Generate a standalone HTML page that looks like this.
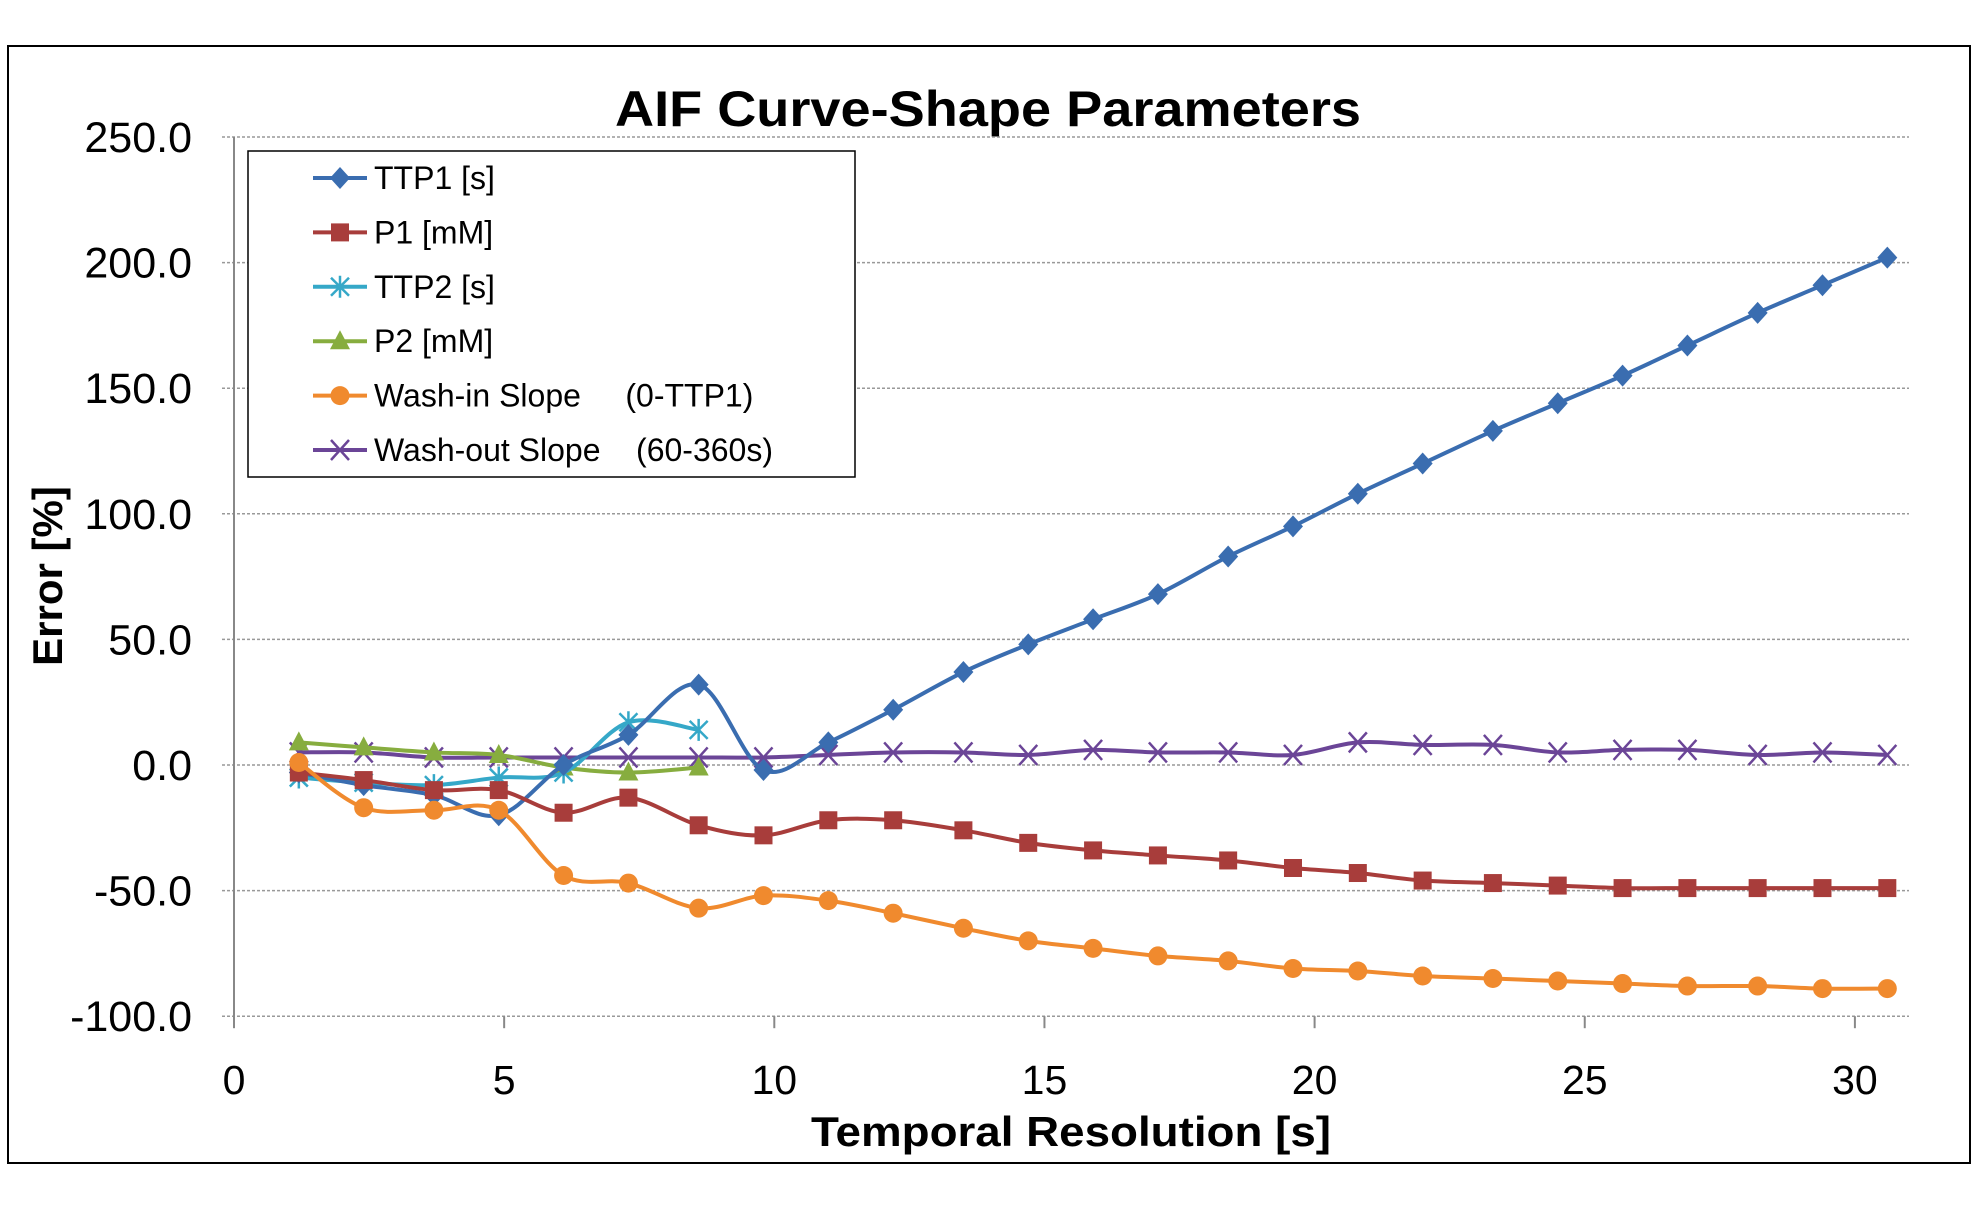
<!DOCTYPE html>
<html><head><meta charset="utf-8"><style>
body{margin:0;background:#fff}
svg{display:block;font-family:"Liberation Sans",sans-serif}
</style></head><body>
<svg id="c" width="1982" height="1212"></svg>
<script>
const xs=[1.2,2.4,3.7,4.9,6.1,7.3,8.6,9.8,11.0,12.2,13.5,14.7,15.9,17.1,18.4,19.6,20.8,22.0,23.3,24.5,25.7,26.9,28.2,29.4,30.6];
const ttp1=[-3,-8,-12,-20,0,12,32,-2,9,22,37,48,58,68,83,95,108,120,133,144,155,167,180,191,202];
const p1=[-3,-6,-10,-10,-19,-13,-24,-28,-22,-22,-26,-31,-34,-36,-38,-41,-43,-46,-47,-48,-49,-49,-49,-49,-49];
const ttp2=[-5,-7,-8,-5,-3,17,14];
const p2=[9,7,5,4,-1,-3,-1];
const washIn=[1,-17,-18,-18,-44,-47,-57,-52,-54,-59,-65,-70,-73,-76,-78,-81,-82,-84,-85,-86,-87,-88,-88,-89,-89];
const washOut=[5,5,3,3,3,3,3,3,4,5,5,4,6,5,5,4,9,8,8,5,6,6,4,5,4];
const yTicks=[250,200,150,100,50,0,-50,-100];
const xTicks=[0,5,10,15,20,25,30];

const NS='http://www.w3.org/2000/svg',svg=document.getElementById('c');
function el(t,a,p){const e=document.createElementNS(NS,t);for(const k in a)e.setAttribute(k,a[k]);(p||svg).appendChild(e);return e;}
const X=v=>234+v*54.03, Y=v=>765-v*2.512;
const frame=el('rect',{x:8,y:46,width:1962,height:1117,fill:'none',stroke:'#000','stroke-width':2});


const t=el('text',{x:988,y:126,'text-anchor':'middle','font-size':50,'font-weight':'bold',textLength:746,lengthAdjust:'spacingAndGlyphs'});t.textContent='AIF Curve-Shape Parameters';


yTicks.forEach(v=>{
  const g=el('line',{x1:222,x2:1909,y1:Y(v),y2:Y(v),stroke:'#999','stroke-width':1.5,'stroke-dasharray':'3,2'});
  
  
  const l=el('text',{x:192,y:Y(v)+15,'text-anchor':'end','font-size':43});l.textContent=v.toFixed(1);
  
  
});
const ya=el('line',{x1:234,x2:234,y1:Y(250),y2:Y(-100)+10,stroke:'#888','stroke-width':2});


xTicks.forEach(v=>{
  const k=el('line',{x1:X(v),x2:X(v),y1:Y(-100),y2:Y(-100)+12,stroke:'#888','stroke-width':2});
  
  
  const l=el('text',{x:X(v),y:1094,'text-anchor':'middle','font-size':41});l.textContent=v;
  
  
});
const xt=el('text',{x:1071,y:1146,'text-anchor':'middle','font-size':42,'font-weight':'bold',textLength:520,lengthAdjust:'spacingAndGlyphs'});xt.textContent='Temporal Resolution [s]';


const yt=el('text',{x:0,y:0,'text-anchor':'middle','font-size':42,'font-weight':'bold',transform:'translate(62,576) rotate(-90)'});yt.textContent='Error [%]';



function smooth(pts){let d='M'+pts[0][0]+','+pts[0][1];for(let i=0;i<pts.length-1;i++){const p0=pts[i-1]||pts[i],p1=pts[i],p2=pts[i+1],p3=pts[i+2]||p2;
d+=' C'+(p1[0]+(p2[0]-p0[0])/6)+','+(p1[1]+(p2[1]-p0[1])/6)+' '+(p2[0]-(p3[0]-p1[0])/6)+','+(p2[1]-(p3[1]-p1[1])/6)+' '+p2[0]+','+p2[1];}return d;}
function marker(type,x,y,c,g){
  if(type==='diamond')return el('path',{d:`M${x},${y-11}L${x+10},${y}L${x},${y+11}L${x-10},${y}Z`,fill:c},g);
  if(type==='square')return el('rect',{x:x-9,y:y-9,width:18,height:18,fill:c},g);
  if(type==='triangle')return el('path',{d:`M${x},${y-11}L${x+10},${y+8}L${x-10},${y+8}Z`,fill:c},g);
  if(type==='circle')return el('circle',{cx:x,cy:y,r:9.5,fill:c},g);
  if(type==='x')return el('path',{d:`M${x-9},${y-10}L${x+9},${y+10}M${x+9},${y-10}L${x-9},${y+10}`,stroke:c,'stroke-width':2.5,fill:'none'},g);
  if(type==='star')return el('path',{d:`M${x-9},${y-9}L${x+9},${y+9}M${x+9},${y-9}L${x-9},${y+9}M${x},${y-11}L${x},${y+11}`,stroke:c,'stroke-width':2.5,fill:'none'},g);
}
const series=[
 {n:'TTP1 [s]',d:ttp1,c:'#3a6db0',m:'diamond',id:'ttp1'},
 {n:'P1 [mM]',d:p1,c:'#a83d3b',m:'square',id:'p1'},
 {n:'TTP2 [s]',d:ttp2,c:'#35a8c8',m:'star',id:'ttp2'},
 {n:'P2 [mM]',d:p2,c:'#87ad3f',m:'triangle',id:'p2'},
 {n:'Wash-in Slope     (0-TTP1)',d:washIn,c:'#f08a2e',m:'circle',id:'wash-in'},
 {n:'Wash-out Slope    (60-360s)',d:washOut,c:'#6b4597',m:'x',id:'wash-out'}];
const draw=[5,3,2,0,1,4];
draw.forEach(i=>{const s=series[i];const g=el('g',{});
  
  
  const pts=s.d.map((v,j)=>[X(xs[j]),Y(v)]);
  el('path',{d:smooth(pts),fill:'none',stroke:s.c,'stroke-width':4},g);
  pts.forEach(p=>{const mk=marker(s.m,p[0],p[1],s.c,g);
    
    });
});
const lg=el('g',{});


el('rect',{x:248,y:151,width:607,height:326,fill:'#fff',stroke:'#000','stroke-width':1.5},lg);
series.forEach((s,i)=>{const y=178+i*54.4;const g=el('g',{},lg);
  
  
  el('line',{x1:313,x2:367,y1:y,y2:y,stroke:s.c,'stroke-width':4},g);
  marker(s.m,340,y,s.c,g);
  const tx=el('text',{x:374,y:y+11,'font-size':32},g);tx.textContent=s.n;tx.style.whiteSpace='pre';
});
</script>
</body></html>
